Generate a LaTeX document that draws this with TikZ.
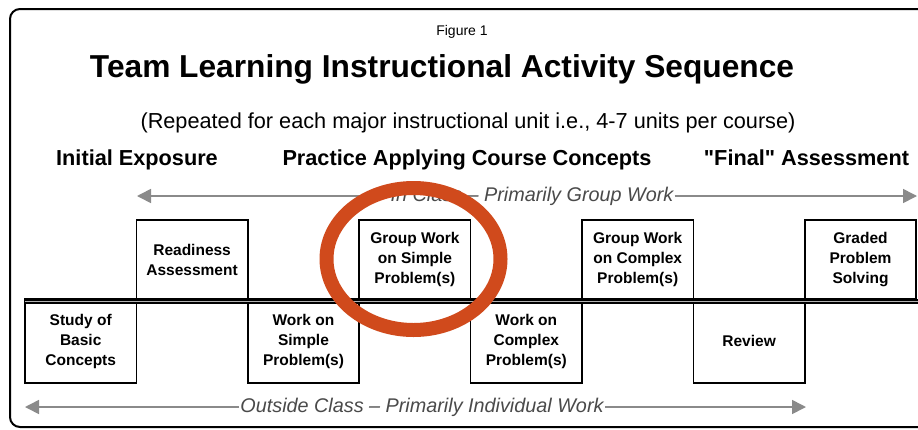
\documentclass[tikz,border=0pt]{standalone}
\usepackage{fontspec}
\setmainfont{Liberation Sans}[Ligatures=TeXOff]
\usetikzlibrary{arrows.meta}
\definecolor{arrgray}{HTML}{8A8A8A}
\definecolor{txtgray}{HTML}{4A4A4A}
\definecolor{ringred}{HTML}{D04A1C}
\tikzset{
  stage/.style={draw=black, line width=1.6pt, minimum width=111.4pt, align=center,
    font=\fontsize{15.5}{20}\selectfont\bfseries, inner sep=0pt},
  upper/.style={stage, minimum height=79pt},
  lower/.style={stage, minimum height=84pt},
  garrow/.style={draw=arrgray, line width=1.6pt, -{Triangle[length=14pt,width=14pt]}},
  gtext/.style={font=\fontsize{19.8}{22}\selectfont\itshape, text=txtgray, inner sep=1pt},
  heading/.style={font=\fontsize{21.7}{24}\selectfont\bfseries, inner sep=0pt},
}
\begin{document}
\begin{tikzpicture}[x=1pt,y=-1pt]
\useasboundingbox (0,0) rectangle (918,429);
\fill[white] (0,0) rectangle (918,429);
% frame
\draw[line width=2pt, rounded corners=10pt] (940,9) -- (10,9) -- (10,427) -- (940,427);
% titles
\node[font=\fontsize{14}{16}\selectfont, anchor=base] (fig) at (462,35) {Figure 1};
\node[font=\fontsize{31.7}{34}\selectfont\bfseries, anchor=base] (title) at (442,77) {Team Learning Instructional Activity Sequence};
\node[font=\fontsize{21.7}{24}\selectfont, anchor=base] (sub) at (468,128) {(Repeated for each major instructional unit i.e., 4-7 units per course)};
\node[heading, anchor=base] (h1) at (137,165) {Initial Exposure};
\node[heading, anchor=base] (h2) at (467,165) {Practice Applying Course Concepts};
\node[heading, anchor=base] (h3) at (806.5,165) {"Final" Assessment};
% in-class arrow
\node[gtext] (inclass) at (532,196) {In Class – Primarily Group Work};
\coordinate (inL) at (137,196);
\coordinate (inR) at (917,196);
\draw[garrow] (inclass.west) -- (inL);
\draw[garrow] (inclass.east) -- (inR);
% boxes
\node[upper] (b1) at (192.1,259.5) {Readiness\\Assessment};
\node[upper] (b3) at (414.9,259.5) {Group Work\\on Simple\\Problem(s)};
\node[upper] (b5) at (637.7,259.5) {Group Work\\on Complex\\Problem(s)};
\node[upper] (b7) at (860.5,259.5) {Graded\\Problem\\Solving};
\node[lower] (b0) at (80.7,341) {Study of\\Basic\\Concepts};
\node[lower] (b2) at (303.5,341) {Work on\\Simple\\Problem(s)};
\node[lower] (b4) at (526.3,341) {Work on\\Complex\\Problem(s)};
\node[lower] (b6) at (749.1,341) {Review};
% double timeline
\coordinate (tlL) at (25,301.5);
\coordinate (tlR) at (918,301.5);
\draw[double=gray!60, double distance=1.3pt, line width=2.3pt] (tlL) -- (tlR);
% outside-class arrow
\node[gtext] (outside) at (422,407) {Outside Class – Primarily Individual Work};
\coordinate (outL) at (25,407);
\coordinate (outR) at (806,407);
\draw[garrow] (outside.west) -- (outL);
\draw[garrow] (outside.east) -- (outR);
% red ring
\draw[ringred, line width=14pt] (413.5,259) ellipse [x radius=87, y radius=71];
\end{tikzpicture}
\end{document}
